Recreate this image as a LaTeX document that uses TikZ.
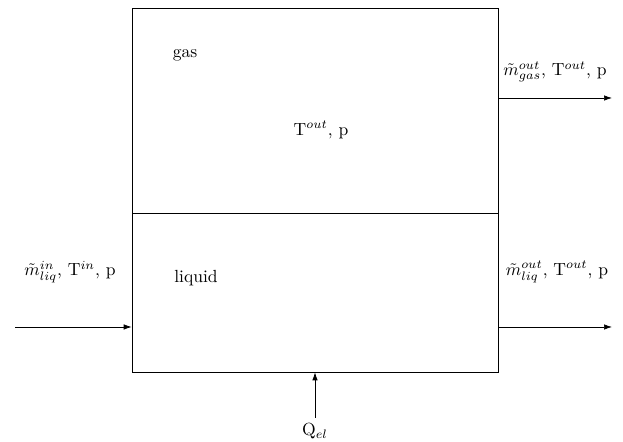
\documentclass[tikz,border=0pt]{standalone}
\usepackage{amsmath,amssymb}
\usepackage{tikz}
\usetikzlibrary{arrows.meta,positioning,calc}

\begin{document}
\begin{tikzpicture}[>={Latex[length=1.6mm,width=1.1mm]}]
  \useasboundingbox (0,0) rectangle (12.46,8.84);
  % vessel: gas phase on top, liquid below
  \node[draw, thin, minimum width=7.32cm, minimum height=4.10cm, inner sep=0pt] (gasbox) at (6.30,6.63) {};
  \node[draw, thin, minimum width=7.32cm, minimum height=3.18cm, inner sep=0pt] (liqbox) at (6.30,2.99) {};
  \node (gas) at (3.70,7.74) {gas};
  \node (state) at (6.42,6.24) {T$^{out}$, p};
  \node (liquid) at (3.92,3.28) {liquid};
  % streams
  \coordinate (gasout) at (12.24,6.88);
  \coordinate (liqin) at (0.30,2.30);
  \coordinate (liqout) at (12.24,2.30);
  \coordinate (heat) at (6.30,0.48);
  \draw[->] (gasbox.east |- gasout) -- (gasout);
  \draw[->] (liqin) -- (liqbox.west |- liqin);
  \draw[->] (liqbox.east |- liqout) -- (liqout);
  \draw[->] (heat) -- (liqbox.south);
  \node (gasoutlbl) at (11.10,7.40) {$\tilde{m}^{out}_{gas}$, T$^{out}$, p};
  \node (liqinlbl) at (1.40,3.40) {$\tilde{m}^{in}_{liq}$, T$^{in}$, p};
  \node (liqoutlbl) at (11.14,3.40) {$\tilde{m}^{out}_{liq}$, T$^{out}$, p};
  \node (heatlbl) at (6.30,0.22) {Q$_{el}$};
\end{tikzpicture}
\end{document}
